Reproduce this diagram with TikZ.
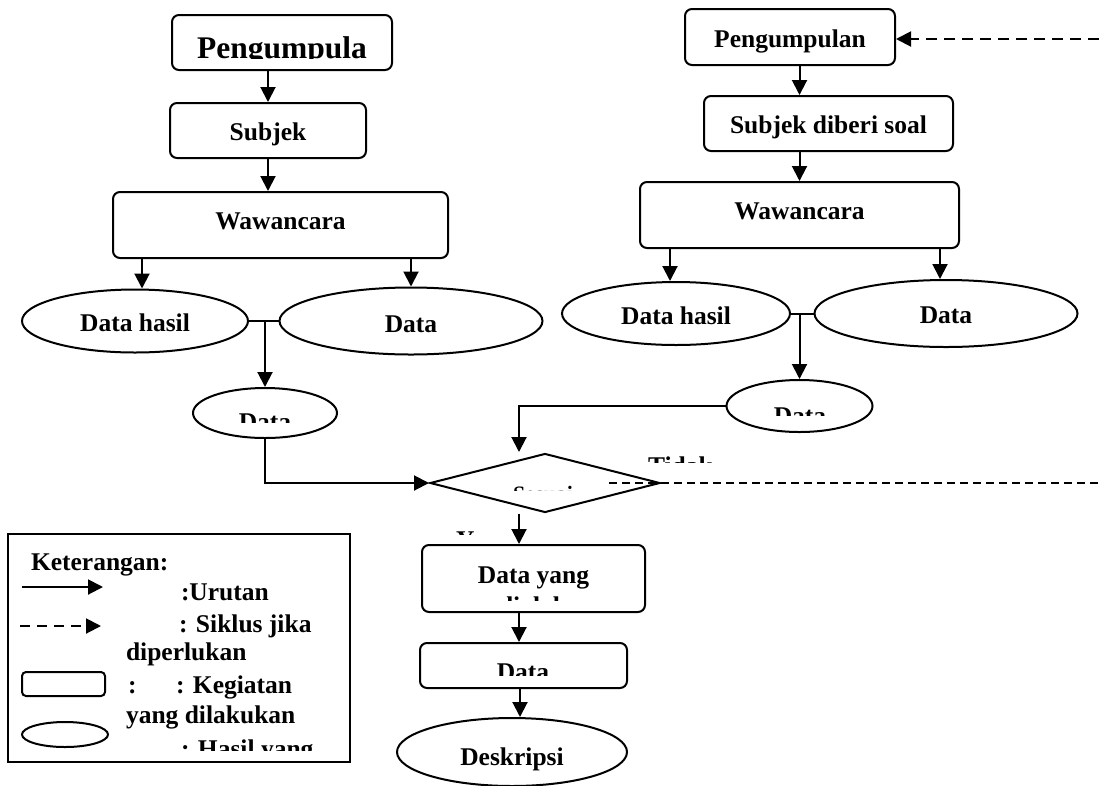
\documentclass[tikz,border=0pt]{standalone}
\usepackage{fontspec}
\setmainfont{Liberation Serif}
\usepackage{tikz}
\usetikzlibrary{arrows.meta}
\usetikzlibrary{shapes.geometric}
\usetikzlibrary{positioning}

\newcommand{\fnorm}{\fontsize{25.5}{30}\selectfont\bfseries}
\newcommand{\fbesar}{\fontsize{31.5}{36}\selectfont\bfseries}
\newcommand{\fkecil}{\fontsize{22}{26}\selectfont\bfseries}

\begin{document}
\begin{tikzpicture}[x=1pt, y=-1pt, line width=2pt, >={Triangle[length=15pt,width=15pt]}]
	\tikzstyle{kotak}=[draw, rectangle, rounded corners=7pt, inner sep=0pt, font=\fnorm, text height=17pt, text depth=0pt]
	\tikzstyle{elips}=[draw, ellipse, inner sep=0pt, font=\fnorm, text height=17pt, text depth=0pt]
	\tikzstyle{belah}=[draw, diamond, inner sep=0pt]
	\tikzstyle{teks}=[inner sep=0pt, anchor=base, font=\fnorm]
	\tikzstyle{ket}=[inner sep=0pt, anchor=base west, font=\fnorm]
	\tikzstyle{putus1}=[dash pattern=on 11pt off 7pt]
	\tikzstyle{putus2}=[dash pattern=on 8pt off 5pt]

	\useasboundingbox (0,0) rectangle (1099,785);

	% alur kiri
	\node[kotak, minimum width=220pt, minimum height=55pt] (peng1) at (282,42.5) {};
	\begin{scope}
		\clip (176,20) rectangle (388,58.5);
		\node[teks, font=\fbesar] (peng1t) at (282,58) {Pengumpula};
	\end{scope}
	\node[kotak, minimum width=196pt, minimum height=55pt] (subj1) at (268,130.5) {\raisebox{-1pt}{Subjek}};
	\node[kotak, minimum width=335pt, minimum height=66pt] (waw1) at (280.5,225) {\raisebox{4.5pt}{Wawancara}};
	\node[elips, minimum width=226pt, minimum height=63pt] (dh1) at (135,321) {\raisebox{-2pt}{Data hasil}};
	\node[elips, minimum width=263pt, minimum height=67pt] (dd1) at (411,321) {\raisebox{-3pt}{Data}};
	\node[elips, minimum width=144pt, minimum height=50pt] (dsm1) at (265,413) {};
	\begin{scope}
		\clip (200,400) rectangle (330,422);
		\node[teks] (dsm1t) at (265,430) {Data};
	\end{scope}

	% alur kanan
	\node[kotak, minimum width=210pt, minimum height=56pt] (peng2) at (790,37) {\raisebox{-2pt}{Pengumpulan}};
	\node[kotak, minimum width=249pt, minimum height=55pt] (subj2) at (828.5,123.5) {\raisebox{-1.5pt}{Subjek diberi soal}};
	\node[kotak, minimum width=319pt, minimum height=66pt] (waw2) at (799.5,215) {\raisebox{4.5pt}{Wawancara}};
	\node[elips, minimum width=228pt, minimum height=63pt] (dh2) at (676,313.5) {\raisebox{-2pt}{Data hasil}};
	\node[elips, minimum width=263pt, minimum height=67pt] (dd2) at (946,313.5) {\raisebox{-1.5pt}{Data}};
	\node[elips, minimum width=146pt, minimum height=52pt] (dsm2) at (799.5,406) {};
	\begin{scope}
		\clip (735,395) rectangle (865,415);
		\node[teks] (dsm2t) at (800,424) {Data};
	\end{scope}

	% keputusan
	\node[belah, minimum width=230pt, minimum height=59pt] (dia) at (545,483) {};
	\begin{scope}
		\clip (500,480) rectangle (600,490.5);
		\node[ket, font=\fkecil] (sesuai) at (512,501.6) {Sesuai};
	\end{scope}
	\begin{scope}
		\clip (640,450) rectangle (720,462.5);
		\node[ket] (tidak) at (647,474) {Tidak};
	\end{scope}
	\begin{scope}
		\clip (450,522) rectangle (490,534.5);
		\node[ket] (ya) at (455,548) {Ya};
	\end{scope}

	% alur bawah
	\node[kotak, minimum width=223pt, minimum height=67pt] (dyang) at (533.5,578.5) {\raisebox{3.5pt}{Data yang}};
	\begin{scope}
		\clip (490,590) rectangle (580,600.5);
		\node[ket] (diolah) at (498,614) {diolah};
	\end{scope}
	\node[kotak, minimum width=207pt, minimum height=45pt] (dbox) at (523.5,665.5) {};
	\begin{scope}
		\clip (480,650) rectangle (570,675);
		\node[teks] (dboxt) at (523,680) {Data};
	\end{scope}
	\node[elips, minimum width=230pt, minimum height=68pt] (desk) at (512,752) {\raisebox{-4.5pt}{Deskripsi}};

	% panah
	\draw[->] (subj1.north |- peng1.south) -- (subj1.north);
	\draw[->] (subj1.south) -- (subj1.south |- waw1.north);
	\draw[->] (142,0 |- waw1.south) -- (142,0 |- dh1.north);
	\draw[->] (dd1.north |- waw1.south) -- (dd1.north);
	\draw (dh1.east) -- (dd1.west);
	\draw[->] (dsm1.north |- dd1.west) -- (dsm1.north);
	\draw[->] (dsm1.south) |- (dia.west);

	\draw[->] (waw2.north |- peng2.south) -- (waw2.north |- subj2.north);
	\draw[->] (waw2.north |- subj2.south) -- (waw2.north);
	\draw[->] (670,0 |- waw2.south) -- (670,0 |- dh2.north);
	\draw[->] (940,0 |- waw2.south) -- (940,0 |- dd2.north);
	\draw (dh2.east) -- (dd2.west);
	\draw[->] (dsm2.north |- dd2.west) -- (dsm2.north);
	\coordinate (masuk) at (519,452);
	\draw[->] (dsm2.west) -| (masuk);

	\draw[->] (519,0 |- dia.south) -- (519,0 |- dyang.north);
	\draw[->] (519,0 |- dyang.south) -- (519,0 |- dbox.north);
	\draw[->] (520,0 |- dbox.south) -- (520,0 |- desk.north);

	% siklus
	\coordinate (kanan1) at (1099,483);
	\coordinate (kanan2) at (1099,39);
	\draw[putus2] ([xshift=-52pt]dia.east) -- (kanan1);
	\draw[putus1,->] (kanan2) -- (kanan2 -| peng2.east);

	% keterangan
	\node[draw, minimum width=342pt, minimum height=228pt, inner sep=0pt] (legenda) at (179,648) {};
	\node[ket] (ket1) at (30,570) {Keterangan:};
	\coordinate (a1) at (22,587);
	\coordinate (a2) at (103,587);
	\draw[->] (a1) -- (a2);
	\node[ket] (ket2) at (180,600) {:Urutan};
	\coordinate (b1) at (20,626);
	\coordinate (b2) at (101,626);
	\draw[->, dash pattern=on 10pt off 7pt] (b1) -- (b2);
	\node[ket] (ket3) at (178,632) {: Siklus jika};
	\node[ket] (ket4) at (125,660) {diperlukan};
	\node[kotak, minimum width=83pt, minimum height=24pt, rounded corners=4pt] (ketK) at (63.5,684) {};
	\node[ket] (ket5) at (127,693) {:};
	\node[ket] (ket6) at (175,693) {: Kegiatan};
	\node[ket] (ket7) at (125,723) {yang dilakukan};
	\node[elips, minimum width=86pt, minimum height=25pt] (ketE) at (65,734.5) {};
	\begin{scope}
		\clip (170,735) rectangle (345,750);
		\node[ket] (ket8) at (180,757) {: Hasil yang};
	\end{scope}
\end{tikzpicture}
\end{document}
